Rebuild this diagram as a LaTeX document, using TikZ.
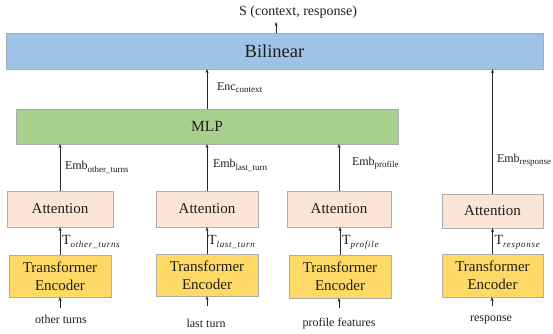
\documentclass[tikz,border=0pt]{standalone}
\usepackage{fontspec}
\setmainfont{Liberation Serif}
\newfontfamily\tsubfont{Liberation Serif}[LetterSpace=8]
\usetikzlibrary{arrows.meta}
\definecolor{bilblue}{HTML}{9DC3E6}
\definecolor{mlpgreen}{HTML}{A9D18E}
\definecolor{attpink}{HTML}{FBE5D6}
\definecolor{teyellow}{HTML}{FFD966}
\definecolor{edgegray}{HTML}{ADADAD}
\definecolor{txt}{HTML}{1E1E1E}
\newcommand{\mysub}[1]{\raisebox{-2.8pt}{\fontsize{9}{9}\selectfont #1}}
\newcommand{\tsub}[1]{\raisebox{-3.5pt}{\fontsize{9}{9}\selectfont\tsubfont\itshape #1}}
\tikzset{
  box/.style={draw=edgegray, line width=0.9pt, inner sep=0pt, outer sep=0pt, text=txt, align=center},
  attbox/.style={box, fill=attpink, font=\fontsize{15}{17}\selectfont},
  tebox/.style={box, fill=teyellow, font=\fontsize{15}{18}\selectfont},
  lab/.style={inner sep=0pt, outer sep=0pt, text=txt, font=\fontsize{12}{14}\selectfont},
  tlab/.style={inner sep=0pt, outer sep=0pt, text=txt, font=\fontsize{14}{16}\selectfont},
  conn/.style={line width=0.8pt, draw=black!85, -{Stealth[length=4pt,width=3pt]}},
}
\begin{document}
\begin{tikzpicture}[x=1pt,y=-1pt]
\useasboundingbox (0,0) rectangle (553,333);
% main boxes
\node[box, fill=bilblue, minimum width=537pt, minimum height=36pt, font=\fontsize{18.5}{20}\selectfont] (bil) at (274.5,51) {Bilinear};
\node[box, fill=mlpgreen, minimum width=382pt, minimum height=35pt, font=\fontsize{15.5}{17}\selectfont] (mlp) at (207,126.5) {MLP};
% attention
\node[attbox, minimum width=106pt, minimum height=36pt] (att1) at (60,209) {Attention};
\node[attbox, minimum width=102pt, minimum height=36pt] (att2) at (207,209) {Attention};
\node[attbox, minimum width=104pt, minimum height=36pt] (att3) at (339,209) {Attention};
\node[attbox, minimum width=101pt, minimum height=34pt] (att4) at (492.5,211) {Attention};
% transformer encoders
\node[tebox, minimum width=102pt, minimum height=42pt] (te1) at (60,276) {Transformer\\Encoder};
\node[tebox, minimum width=102pt, minimum height=42pt] (te2) at (207,275) {Transformer\\Encoder};
\node[tebox, minimum width=102pt, minimum height=43pt] (te3) at (340,276.5) {Transformer\\Encoder};
\node[tebox, minimum width=101pt, minimum height=43pt] (te4) at (492.5,275.5) {Transformer\\Encoder};
% inputs
\node[lab] (in1) at (61,319) {other turns};
\node[lab] (in2) at (206,323) {last turn};
\node[lab] (in3) at (339,324) {profile features};
\node[lab] (in4) at (491,320) {response};
% output
\node[lab, font=\fontsize{14}{16}\selectfont] (out) at (298,12) {S (context, response)};
\coordinate (outpt) at (276,22);
% connectors: inputs
\draw[conn] (60,308) coordinate (s1) -- (s1 |- te1.south);
\draw[conn] (207,306) coordinate (s2) -- (s2 |- te2.south);
\draw[conn] (339,308) coordinate (s3) -- (s3 |- te3.south);
\draw[conn] (492,306) coordinate (s4) -- (s4 |- te4.south);
% encoder -> attention
\draw[conn] (te1.north) -- (att1.south);
\draw[conn] (te2.north) -- (att2.south);
\draw[conn] (te3.north) -- (te3.north |- att3.south);
\draw[conn] (te4.north) -- (att4.south);
% attention -> MLP / Bilinear
\draw[conn] (att1.north) -- (att1.north |- mlp.south);
\draw[conn] (att2.north) -- (att2.north |- mlp.south);
\draw[conn] (att3.north) -- (att3.north |- mlp.south);
\draw[conn] (att4.north) -- (att4.north |- bil.south);
\draw[conn] (mlp.north) -- (mlp.north |- bil.south);
\draw[conn] (bil.north -| outpt) -- (outpt);
% T labels
\node[tlab, anchor=base west] (t1) at (62,244) {T\tsub{other\_turns}};
\node[tlab, anchor=base west] (t2) at (208,244) {T\tsub{last\_turn}};
\node[tlab, anchor=base west] (t3) at (342,244) {T\tsub{profile}};
\node[tlab, anchor=base west] (t4) at (494.5,244) {T\tsub{response}};
% Emb labels
\node[lab, anchor=base west] (e1) at (65,169.5) {Emb\mysub{other\_turns}};
\node[lab, anchor=base west] (e2) at (213,167.5) {Emb\mysub{last\_turn}};
\node[lab, anchor=base west] (e3) at (352,165) {Emb\mysub{profile}};
\node[lab, anchor=base west] (e4) at (497,162) {Emb\mysub{response}};
\node[lab, anchor=base west] (enc) at (217,90) {Enc\mysub{context}};
\end{tikzpicture}
\end{document}
